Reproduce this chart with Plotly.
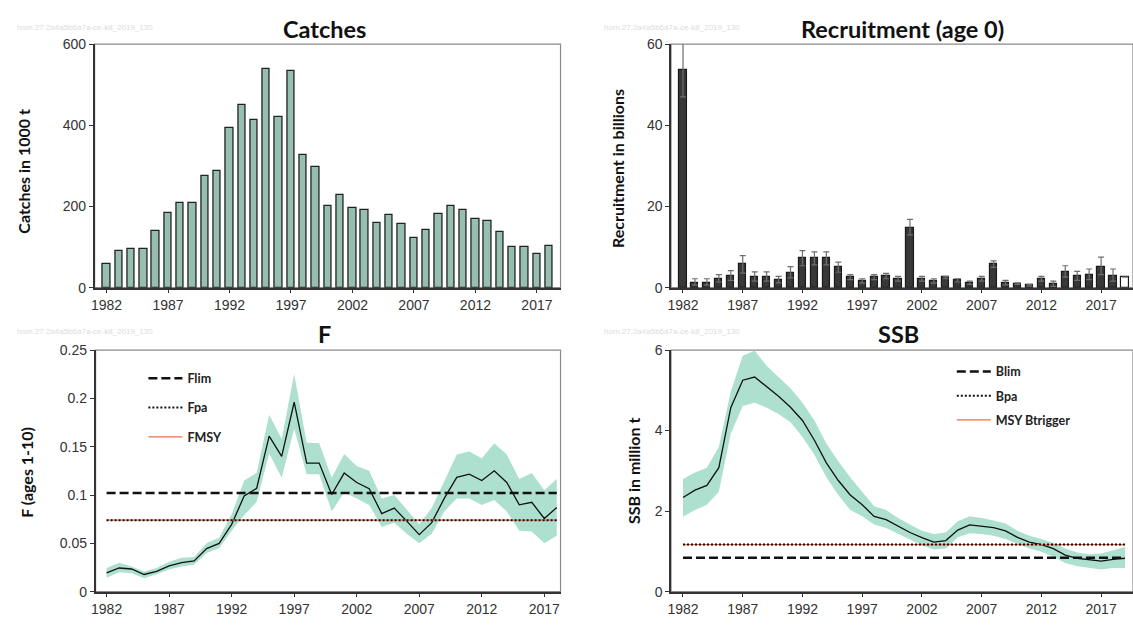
import plotly.graph_objects as go

W, H = 1133, 626

# ---------------- data ----------------
years_catch = list(range(1982, 2019))
catches = [59, 89, 95, 95, 139, 185, 209, 209, 276, 286, 392, 449, 413, 539, 420,
           533, 326, 298, 202, 229, 196, 192, 159, 179, 156, 122, 142, 182, 202, 192,
           168, 165, 136, 99, 99, 82, 102]

years_rec = list(range(1982, 2020))
recruitment = [53.5, 1.2, 1.2, 2.2, 2.8, 5.9, 2.6, 2.6, 1.9, 3.6, 7.2, 7.2, 7.2, 5.0, 2.6,
               1.6, 2.6, 2.8, 2.2, 14.8, 2.2, 1.6, 2.6, 1.8, 1.2, 2.2, 5.8, 1.2, 1.0, 0.6,
               2.2, 0.8, 3.8, 2.8, 3.2, 5.2, 2.8, 2.6]
rec_high = [66.0, 2.2, 2.2, 3.2, 4.2, 7.9, 3.9, 3.9, 2.8, 5.2, 9.1, 8.8, 8.8, 6.3, 3.2,
            2.2, 3.2, 3.5, 2.8, 16.8, 2.8, 2.2, 2.8, 2.2, 1.6, 2.8, 6.6, 1.8, 1.2, 0.8,
            2.8, 1.6, 5.4, 4.0, 4.6, 7.5, 4.6, 2.6]
rec_low = [47.0, 0.6, 0.6, 1.4, 1.8, 3.6, 1.6, 1.6, 1.2, 2.4, 5.4, 5.6, 5.6, 3.8, 2.0,
           1.1, 2.0, 2.2, 1.6, 13.0, 1.6, 1.1, 2.2, 1.4, 0.8, 1.6, 5.0, 0.7, 0.8, 0.4,
           1.6, 0.3, 2.6, 1.8, 2.0, 3.2, 1.6, 2.6]

years_f = list(range(1982, 2019))
f_val = [0.0194, 0.0245, 0.0235, 0.0178, 0.021, 0.0268, 0.030, 0.0318, 0.0446, 0.050,
         0.0697, 0.099, 0.107, 0.161, 0.140, 0.196, 0.133, 0.133, 0.1005, 0.1227,
         0.113, 0.1066, 0.0808, 0.0865, 0.073, 0.059, 0.0714, 0.0965, 0.1183, 0.1216,
         0.115, 0.125, 0.113, 0.0898, 0.0925, 0.0757, 0.0871]
f_high = [0.0245, 0.030, 0.026, 0.021, 0.0245, 0.031, 0.035, 0.036, 0.050, 0.056,
          0.080, 0.115, 0.123, 0.183, 0.158, 0.2255, 0.154, 0.1535, 0.118, 0.1424,
          0.130, 0.125, 0.0965, 0.100, 0.085, 0.0697, 0.0865, 0.115, 0.1418, 0.145,
          0.138, 0.1535, 0.1418, 0.1166, 0.1227, 0.1049, 0.1166]
f_low = [0.0144, 0.020, 0.019, 0.014, 0.018, 0.023, 0.026, 0.028, 0.040, 0.045,
         0.063, 0.079, 0.093, 0.143, 0.118, 0.1686, 0.1216, 0.1216, 0.083, 0.103,
         0.0965, 0.0898, 0.067, 0.0714, 0.060, 0.050, 0.060, 0.083, 0.0965, 0.0965,
         0.0898, 0.0948, 0.083, 0.063, 0.0623, 0.050, 0.058]

years_ssb = list(range(1982, 2020))
ssb = [2.34, 2.52, 2.64, 3.08, 4.57, 5.25, 5.33, 5.09, 4.85, 4.58, 4.25, 3.76, 3.20,
       2.76, 2.40, 2.16, 1.87, 1.79, 1.63, 1.47, 1.34, 1.23, 1.27, 1.53, 1.66, 1.63,
       1.59, 1.51, 1.35, 1.23, 1.17, 1.07, 0.91, 0.83, 0.79, 0.76, 0.80, 0.83]
ssb_high = [2.80, 2.96, 3.08, 3.60, 4.97, 5.86, 5.98, 5.61, 5.33, 5.05, 4.69, 4.25, 3.68,
            3.24, 2.84, 2.48, 2.12, 2.03, 1.83, 1.67, 1.51, 1.43, 1.47, 1.75, 1.87, 1.83,
            1.77, 1.69, 1.51, 1.39, 1.31, 1.21, 1.07, 0.97, 0.93, 0.95, 1.03, 1.11]
ssb_low = [1.86, 2.03, 2.16, 2.48, 3.92, 4.61, 4.69, 4.57, 4.41, 4.21, 3.84, 3.40, 2.84,
           2.40, 2.03, 1.87, 1.67, 1.58, 1.43, 1.29, 1.15, 1.05, 1.07, 1.35, 1.45, 1.43,
           1.39, 1.31, 1.19, 1.07, 0.99, 0.87, 0.71, 0.63, 0.59, 0.55, 0.59, 0.59]

Flim, Fpa, FMSY = 0.102, 0.074, 0.074
Blim, Bpa, MSYBtrigger = 0.84, 1.17, 1.17

year_ticks = [1982, 1987, 1992, 1997, 2002, 2007, 2012, 2017]
watermark = "hom.27.2a4a5b6a7a-ce-k8_2019_130"

# ---------------- styles ----------------
TICK_FONT = dict(family="Liberation Sans, Arial, sans-serif", size=14, color="#333333")
TITLE_FONT = dict(family="Lato, Open Sans, sans-serif", size=23.5, color="#111111")
LABEL_FONT = dict(family="Lato, Open Sans, sans-serif", size=16, color="#111111")
BAND = "rgba(160,218,200,0.85)"

def px(xp):
    return xp / W

def py(yp):
    return 1 - yp / H

fig = go.Figure()

# Catches
fig.add_trace(go.Bar(x=years_catch, y=catches, width=0.6,
                     marker=dict(color="#97BFAF", line=dict(color="#222222", width=1.3)),
                     xaxis="x", yaxis="y", showlegend=False))

# Recruitment
rec_plus = [h - v for h, v in zip(rec_high, recruitment)]
rec_minus = [v - l for v, l in zip(recruitment, rec_low)]
rec_colors = ["#383838"] * (len(recruitment) - 1) + ["#ffffff"]
fig.add_trace(go.Bar(x=years_rec, y=recruitment, width=0.6,
                     marker=dict(color=rec_colors, line=dict(color="#1a1a1a", width=1.2)),
                     error_y=dict(type="data", array=rec_plus, arrayminus=rec_minus,
                                  color="#6e6e6e", thickness=1.2, width=3),
                     xaxis="x2", yaxis="y2", showlegend=False))

# F band + line
fig.add_trace(go.Scatter(x=years_f + years_f[::-1], y=f_high + f_low[::-1],
                         fill="toself", fillcolor=BAND, line=dict(width=0),
                         mode="lines", xaxis="x3", yaxis="y3", showlegend=False,
                         hoverinfo="skip"))
fig.add_trace(go.Scatter(x=years_f, y=f_val, mode="lines",
                         line=dict(color="#111111", width=1.3),
                         xaxis="x3", yaxis="y3", showlegend=False))
f_span = [years_f[0], years_f[-1]]
fig.add_trace(go.Scatter(x=f_span, y=[FMSY, FMSY], mode="lines", name="FMSY",
                         line=dict(color="#e8704a", width=1.2),
                         xaxis="x3", yaxis="y3", legend="legend", legendgroup="c",
                         legendrank=3))
fig.add_trace(go.Scatter(x=f_span, y=[Fpa, Fpa], mode="lines", name="Fpa",
                         line=dict(color="#111111", width=2, dash="2px,2px"),
                         xaxis="x3", yaxis="y3", legend="legend", legendgroup="b",
                         legendrank=2))
fig.add_trace(go.Scatter(x=f_span, y=[Flim, Flim], mode="lines", name="Flim",
                         line=dict(color="#111111", width=2.5, dash="9px,4px"),
                         xaxis="x3", yaxis="y3", legend="legend", legendgroup="a",
                         legendrank=1))

# SSB band + line
fig.add_trace(go.Scatter(x=years_ssb + years_ssb[::-1], y=ssb_high + ssb_low[::-1],
                         fill="toself", fillcolor=BAND, line=dict(width=0),
                         mode="lines", xaxis="x4", yaxis="y4", showlegend=False,
                         hoverinfo="skip"))
fig.add_trace(go.Scatter(x=years_ssb, y=ssb, mode="lines",
                         line=dict(color="#111111", width=1.3),
                         xaxis="x4", yaxis="y4", showlegend=False))
b_span = [years_ssb[0], years_ssb[-1]]
fig.add_trace(go.Scatter(x=b_span, y=[MSYBtrigger, MSYBtrigger], mode="lines",
                         name="MSY Btrigger", line=dict(color="#e8704a", width=1.2),
                         xaxis="x4", yaxis="y4", legend="legend2", legendgroup="f",
                         legendrank=3))
fig.add_trace(go.Scatter(x=b_span, y=[Bpa, Bpa], mode="lines", name="Bpa",
                         line=dict(color="#111111", width=2, dash="2px,2px"),
                         xaxis="x4", yaxis="y4", legend="legend2", legendgroup="e",
                         legendrank=2))
fig.add_trace(go.Scatter(x=b_span, y=[Blim, Blim], mode="lines", name="Blim",
                         line=dict(color="#111111", width=2.5, dash="9px,4px"),
                         xaxis="x4", yaxis="y4", legend="legend2", legendgroup="d",
                         legendrank=1))

def xax(dom, rng, anchor):
    return dict(domain=dom, range=rng, anchor=anchor, tickvals=year_ticks,
                ticks="outside", ticklen=4, tickcolor="#333333", tickfont=TICK_FONT,
                showline=True, linecolor="#333333", linewidth=1.5, showgrid=False,
                zeroline=False, fixedrange=True)

def yax(dom, rng, tv, anchor):
    return dict(domain=dom, range=rng, anchor=anchor, tickvals=tv,
                ticks="outside", ticklen=4, tickcolor="#333333", tickfont=TICK_FONT,
                showline=True, linecolor="#333333", linewidth=1.5, showgrid=False,
                zeroline=False, fixedrange=True)

top_dom = [py(287), py(37)]
bot_dom = [py(599), py(351)]
left_dom = [px(90), px(558)]
left_dom_f = [px(91), px(558)]
right_dom = [px(669), 1.0]

legend_common = dict(font=dict(family="Lato, Open Sans, sans-serif", size=12.5,
                               color="#222222", weight="bold"),
                      bgcolor="rgba(0,0,0,0)", borderwidth=0, traceorder="grouped",
                      xanchor="left", yanchor="top", itemwidth=34)

fig.update_layout(
    width=W, height=H,
    margin=dict(l=0, r=0, t=0, b=0),
    paper_bgcolor="white", plot_bgcolor="white",
    bargap=0,
    xaxis=xax(left_dom, [1981.03, 2018.92], "y"),
    yaxis=yax(top_dom, [0, 600], [0, 200, 400, 600], "x"),
    xaxis2=xax(right_dom, [1981.0, 2019.67], "y2"),
    yaxis2=yax(top_dom, [0, 60], [0, 20, 40, 60], "x2"),
    xaxis3=xax(left_dom_f, [1981.12, 2018.3], "y3"),
    yaxis3=yax(bot_dom, [0, 0.25], [0, 0.05, 0.1, 0.15, 0.2, 0.25], "x3"),
    xaxis4=xax(right_dom, [1981.0, 2019.67], "y4"),
    yaxis4=yax(bot_dom, [0, 6], [0, 2, 4, 6], "x4"),
    legend=dict(x=px(139), y=py(365), tracegroupgap=10, **legend_common),
    legend2=dict(x=px(951), y=py(358), tracegroupgap=5, **legend_common),
)

# frame (top/right) in grey
for xr, yr in [("x", "y"), ("x2", "y2"), ("x3", "y3"), ("x4", "y4")]:
    fig.add_shape(type="rect", xref=f"{xr} domain", yref=f"{yr} domain",
                  x0=0, x1=1, y0=0, y1=1, line=dict(color="#8a8a8a", width=1.2),
                  layer="below")

annotations = [
    dict(text="<b>Catches</b>", x=px(321), y=py(22), font=TITLE_FONT),
    dict(text="<b>Recruitment (age 0)</b>", x=px(901), y=py(22), font=TITLE_FONT),
    dict(text="<b>F</b>", x=px(321), y=py(335), font=TITLE_FONT),
    dict(text="<b>SSB</b>", x=px(897), y=py(335), font=TITLE_FONT),
    dict(text="<b>Catches in 1000 t</b>", x=px(19), y=py(167), textangle=-90, font=LABEL_FONT),
    dict(text="<b>Recruitment in billions</b>", x=px(616), y=py(165), textangle=-90, font=LABEL_FONT),
    dict(text="<b>F (ages 1-10)</b>", x=px(22), y=py(476), textangle=-90, font=LABEL_FONT),
    dict(text="<b>SSB in million t</b>", x=px(632), y=py(475), textangle=-90, font=LABEL_FONT),
]
for xw, yw in [(10, 20), (600, 20), (10, 332), (600, 332)]:
    annotations.append(dict(text=watermark, x=px(xw), y=py(yw), xanchor="left",
                            font=dict(family="Liberation Sans, Arial", size=8, color="#dcdcdc")))
for a in annotations:
    a.setdefault("xanchor", "center")
    a.update(xref="paper", yref="paper", yanchor="middle", showarrow=False)
fig.update_layout(annotations=annotations)

fig.write_html(
    "out.html",
    config={"displayModeBar": False},
    post_script="document.body.style.margin='0px';document.body.style.overflow='hidden';",
)
